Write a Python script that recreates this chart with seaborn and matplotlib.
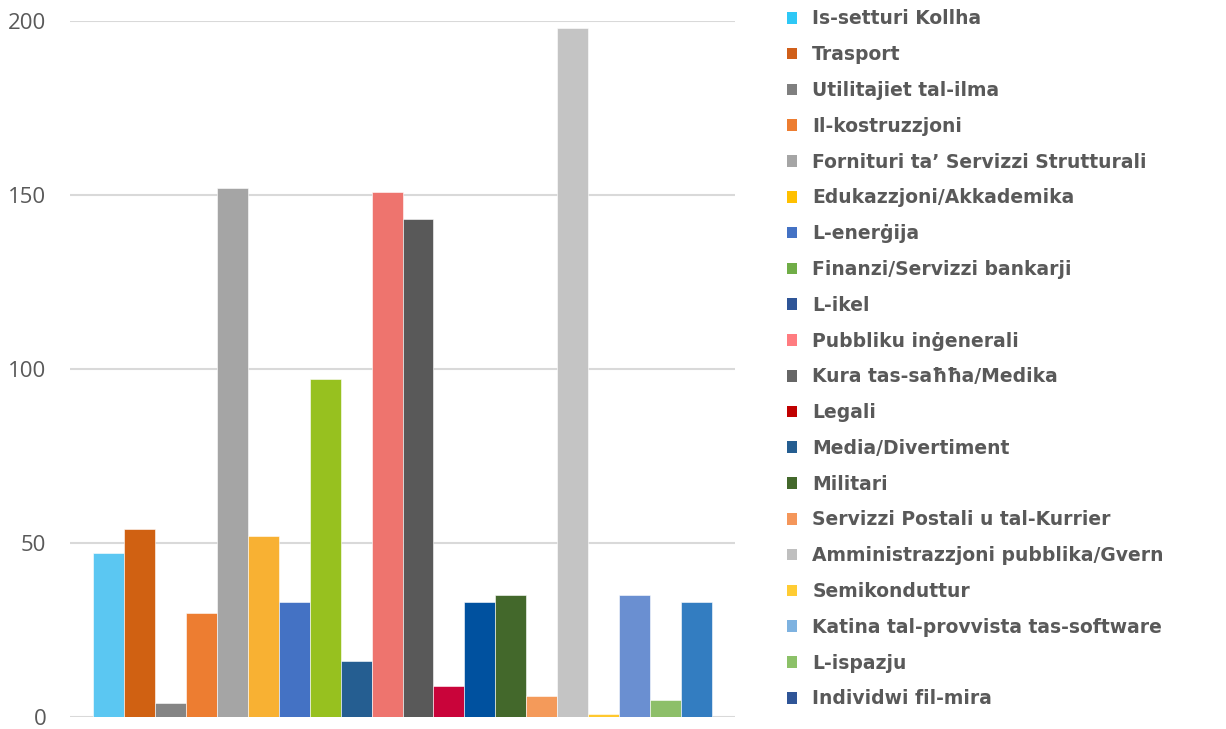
import seaborn as sns
import matplotlib.pyplot as plt
import pandas as pd
from matplotlib.patches import Patch

# Dati
categories = [
    "Is-setturi Kollha", "Trasport", "Utilitajiet tal-ilma", "Il-kostruzzjoni",
    "Fornituri ta\u2019 Servizzi Strutturali", "Edukazzjoni/Akkademika", "L-enerġija",
    "Finanzi/Servizzi bankarji", "L-ikel", "Pubbliku inġenerali", "Kura tas-saħħa/Medika",
    "Legali", "Media/Divertiment", "Militari", "Servizzi Postali u tal-Kurrier",
    "Amministrazzjoni pubblika/Gvern", "Semikonduttur", "Katina tal-provvista tas-software",
    "L-ispazju", "Individwi fil-mira",
]
values = [47, 54, 4, 30, 152, 52, 33, 97, 16, 151, 143, 9, 33, 35, 6, 198, 1, 35, 5, 33]
bar_colors = [
    "#5BC7F2", "#D06112", "#858585", "#ED7D31", "#A5A5A5", "#F8B133", "#4472C4",
    "#97C11F", "#255E91", "#EE746E", "#595959", "#C9043A", "#00519F", "#43682B",
    "#F49A5A", "#C4C4C4", "#FFC82E", "#6A8FD1", "#8DBF69", "#337DC1",
]
legend_colors = [
    "#2EC8F6", "#D05F1A", "#7F7F7F", "#ED7D31", "#A5A5A5", "#FFC000", "#4472C4",
    "#70AD47", "#2F5597", "#FF7C80", "#666666", "#C00000", "#255E91", "#43682B",
    "#F4965A", "#BFBFBF", "#FFCC33", "#7EB2E0", "#8CC168", "#2F5597",
]
yticks = [0, 50, 100, 150, 200]

df = pd.DataFrame({"Settur": categories, "Numru": values})

sns.set_style("white")
plt.rcParams['font.family'] = ['Open Sans', 'DejaVu Sans']

fig = plt.figure(figsize=(12.26, 7.29), dpi=100)
ax = fig.add_axes([70 / 1226, 12 / 729, 665 / 1226, 696 / 729])

sns.barplot(data=df, x="Settur", y="Numru", hue="Settur", palette=bar_colors,
            width=1.0, legend=False, ax=ax, saturation=1,
            edgecolor="white", linewidth=0.4)

ax.set_xlim(-1.24, 20.24)
ax.set_ylim(0, 200)
ax.set_yticks(yticks)
ax.set_yticklabels([str(t) for t in yticks], fontsize=16, color="#595959")
ax.set_xticks([])
ax.set_xlabel("")
ax.set_ylabel("")
ax.tick_params(axis="y", length=0, pad=17)
ax.yaxis.grid(True, color="#D9D9D9", linewidth=1.5)
ax.set_axisbelow(True)
for s in ax.spines.values():
    s.set_visible(False)

# Leġġenda
handles = [Patch(facecolor=c, edgecolor="none") for c in legend_colors]
leg = fig.legend(handles, categories, loc="upper left",
                 bbox_to_anchor=(779 / 1226, 1 - 2 / 729), frameon=False,
                 prop={"family": "DejaVu Sans", "size": 13.5, "weight": "bold"},
                 labelspacing=0.895, handlelength=0.58, handleheight=0.58,
                 handletextpad=0.8, borderaxespad=0)
for t in leg.get_texts():
    t.set_color("#595959")

fig.savefig("out.png", dpi=100)
